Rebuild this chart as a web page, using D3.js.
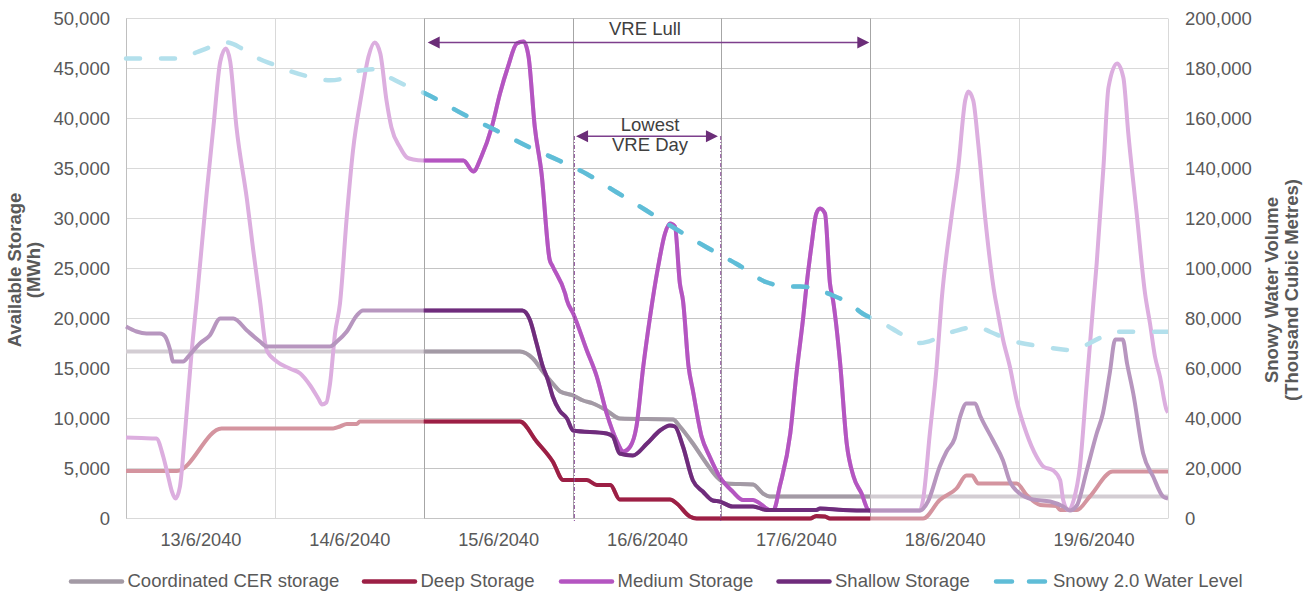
<!DOCTYPE html>
<html><head><meta charset="utf-8">
<script src="https://cdn.jsdelivr.net/npm/d3@7"></script>
<style>
body{margin:0;background:#fff;}
svg{display:block;font-family:"Liberation Sans",Arial,sans-serif;}
</style></head><body>
<svg id="chart" width="1315" height="595"></svg>
<script>
// ---------- data (hour since 13/6/2040 00:00, value) ----------
const dayLabels = ["13/6/2040","14/6/2040","15/6/2040","16/6/2040","17/6/2040","18/6/2040","19/6/2040"];
const leftTicks = [0,5000,10000,15000,20000,25000,30000,35000,40000,45000,50000];
const rightTicks = [0,20000,40000,60000,80000,100000,120000,140000,160000,180000,200000];
const seriesNames = ["Coordinated CER storage","Deep Storage","Medium Storage","Shallow Storage","Snowy 2.0 Water Level"];
const lullRange = [48,120];
const lowestDayRange = [72,96];

const cerData = [[0,16700],[63.5,16700],[65.6,16000],[67.2,14700],[68.8,13500],[70.0,12700],[72.1,12300],[73.7,11800],[75.3,11500],[77.5,10800],[79.6,10000],[88.2,9900],[89.3,9200],[91.4,7500],[93.6,5500],[95.2,4200],[96.8,3500],[101.1,3400],[102.7,2500],[103.8,2200],[168,2200]];

const deepData = [[0,4750],[8.2,4750],[15.4,9000],[33.4,9000],[34.5,9200],[35.6,9450],[37.2,9450],[37.7,9700],[63.5,9700],[66.2,7700],[68.8,5700],[70.5,3850],[74.3,3850],[75.9,3350],[78.1,3350],[79.6,1900],[87.7,1900],[88.8,1500],[90.9,200],[92.0,0],[110.3,0],[111.3,250],[112.7,200],[113.5,0],[128.5,0],[131.2,1850],[133.9,3000],[135.5,4300],[136.4,4300],[137.4,3500],[143.6,3500],[145.2,2350],[147.4,1350],[150.0,1250],[150.6,850],[153.3,850],[155.4,2200],[159.1,4700],[168,4700]];

const mediumData = [[0,8100],[2.5,8050],[4.9,8000],[6.0,6200],[6.8,4200],[7.4,2700],[8.0,2000],[8.7,3200],[9.5,8500],[10.6,16800],[11.4,21800],[13.0,32500],[14.1,39200],[15.2,45700],[16.1,47000],[16.8,45700],[17.8,39200],[19.5,31900],[20.5,26900],[21.6,21800],[22.7,16800],[24.3,15700],[26.4,15000],[28.1,14500],[29.7,13300],[31.0,12000],[31.6,11400],[32.3,11600],[32.9,13500],[33.7,18500],[34.5,21500],[35.6,30200],[36.6,36800],[38.0,42500],[39.1,46200],[40.1,47600],[41.0,46500],[42.0,41800],[42.8,39100],[44.2,37100],[45.3,36100],[46.3,35900],[47.9,35800],[54.4,35800],[56.0,34700],[57.3,36200],[59.0,39200],[60.3,42500],[61.6,45200],[63.0,47500],[64.1,47700],[64.9,46200],[65.9,39200],[67.0,34500],[68.3,25900],[68.8,25200],[70.8,22500],[71.1,21800],[72.1,20500],[74.3,16800],[75.9,14200],[77.5,10500],[79.1,7800],[80.2,6700],[81.3,7200],[82.3,9200],[83.4,15200],[84.5,20200],[85.8,25200],[86.9,28500],[87.7,29500],[88.5,29200],[89.3,23500],[89.8,21800],[90.7,15200],[91.4,12800],[92.8,8200],[94.1,6200],[95.7,4200],[97.8,2700],[99.5,1850],[101.1,1850],[102.2,1500],[103.8,850],[104.4,850],[105.4,3200],[107.1,8500],[108.1,14500],[109.2,20200],[109.7,23200],[110.5,27200],[111.3,30500],[111.9,31000],[112.7,30500],[113.5,23500],[114.0,21800],[115.1,15800],[116.2,7500],[117.3,4200],[118.6,2500],[119.7,850],[120,800],[128.0,800],[128.5,1850],[129.6,8500],[130.7,15200],[131.5,21800],[133.1,30200],[134.2,35200],[135.3,41800],[135.8,42700],[136.6,41800],[137.4,37500],[138.5,30200],[140.1,22200],[140.4,21200],[141.4,17900],[142.5,15200],[143.6,11800],[145.2,8500],[146.8,6200],[147.9,5200],[149.5,4800],[150.6,3850],[151.1,1850],[151.9,850],[152.8,1850],[153.8,5200],[154.9,13500],[156.0,21800],[156.5,25500],[157.6,35200],[158.4,43100],[159.8,45500],[160.8,44100],[161.6,38500],[163.0,30200],[164.3,22500],[165.1,19500],[165.9,16200],[166.7,14200],[167.8,10800],[168,10600]];

const shallowData = [[0,19200],[1.7,18700],[3.3,18500],[5.5,18500],[6.3,18200],[7.1,16900],[7.6,15700],[9.2,15700],[10.3,16400],[11.9,17500],[13.5,18300],[15.2,20000],[17.3,20000],[19.5,18800],[21.6,17700],[22.7,17200],[32.9,17200],[34.0,17700],[35.6,18700],[37.2,20300],[38.2,20800],[63.9,20800],[65.1,19900],[66.2,17500],[67.2,15200],[68.0,13900],[68.8,12200],[69.9,10800],[71.1,10000],[72.1,8800],[77.5,8500],[78.5,8200],[79.6,6500],[81.7,6300],[84.0,7500],[86.1,8800],[87.7,9300],[88.5,9200],[89.8,7200],[91.4,3800],[93.0,2700],[94.6,1800],[95.7,1700],[97.8,1200],[101.1,1200],[103.3,850],[111.3,850],[111.9,1000],[115.6,850],[120,800],[128.0,800],[129.3,1700],[131.2,5200],[132.3,6700],[133.6,8000],[134.5,10200],[135.5,11500],[136.9,11500],[137.7,10300],[139.8,7800],[141.4,5800],[142.5,3700],[144.1,2500],[146.2,1900],[149.0,1700],[151.1,1200],[152.2,800],[153.3,1300],[154.9,4800],[156.5,8500],[157.5,10500],[158.6,14500],[159.5,17900],[160.7,17900],[161.4,15500],[162.4,12500],[164.0,6500],[165.6,4200],[167.2,2200],[168,2000]];

const snowyData = [[0,184000],[8.7,184000],[11.4,186500],[14.1,189000],[16.3,190400],[18.9,187700],[21.6,183700],[23.7,181700],[26.4,179000],[29.1,177000],[32.9,175300],[34.5,175700],[36.6,178400],[39.8,179700],[42.5,176400],[45.3,173000],[48.5,169700],[54.4,161700],[59.8,155100],[65.1,148400],[69.9,143100],[74.3,137800],[79.1,130500],[83.9,123200],[88.2,116500],[93.6,108500],[98.4,101900],[103.3,94500],[106.5,92800],[108.7,92800],[114.0,89200],[116.7,85900],[118.8,81900],[121.6,78700],[125.3,73400],[128.0,70200],[133.3,74700],[137.2,76700],[139.3,74700],[142.5,71400],[147.9,68700],[152.2,67400],[157.5,72700],[159.8,74700],[168,74700]];

const fullColors  = ["#a39aa5","#9c1f45","#b455c1","#6f2c7c","#5fbdd7"];
const fadedColors = ["#d3cdd3","#d4949f","#dcaedf","#b796bf","#b3e0ec"];

// ---------- setup ----------
const svg = d3.select("#chart");
const textColor = "#595959";
const x = d3.scaleLinear().domain([0,168]).range([126,1168]);
const yL = d3.scaleLinear().domain([0,50000]).range([518.5,18.5]);
const yR = d3.scaleLinear().domain([0,200000]).range([518.5,18.5]);
const px = v => Math.round(v) + 0.5;

// gridlines
const grid = svg.append("g");
grid.selectAll("line.h").data(leftTicks).join("line")
  .attr("x1", x(0)).attr("x2", x(168))
  .attr("y1", d => yL(d)).attr("y2", d => yL(d))
  .attr("stroke", "#d9d9d9").attr("stroke-width", 1);
const dayBounds = d3.range(0, 169, 24);
grid.selectAll("line.v").data(dayBounds).join("line")
  .attr("x1", d => px(x(d))).attr("x2", d => px(x(d)))
  .attr("y1", yL(50000)).attr("y2", yL(0) + (0))
  .attr("stroke", d => d === 0 ? "#bfbfbf" : "#d9d9d9").attr("stroke-width", 1);
// lull box gridlines (darker)
grid.selectAll("line.lh").data(leftTicks).join("line")
  .attr("x1", px(x(lullRange[0]))).attr("x2", px(x(lullRange[1])))
  .attr("y1", d => yL(d)).attr("y2", d => yL(d))
  .attr("stroke", "#c4c4c4").attr("stroke-width", 1);
grid.selectAll("line.lv").data(d3.range(lullRange[0], lullRange[1] + 1, 24)).join("line")
  .attr("x1", d => px(x(d))).attr("x2", d => px(x(d)))
  .attr("y1", yL(50000)).attr("y2", yL(0))
  .attr("stroke", "#a6a6a6").attr("stroke-width", 1);

// axes
function styleAxis(g){
  g.select(".domain").remove();
  g.attr("font-family", null).attr("font-size", null);
  g.selectAll("text").attr("fill", textColor).style("font-size", "18.5px")
    .style("font-family", '"Liberation Sans", Arial, sans-serif');
}
svg.append("g").attr("transform", `translate(${x(0)},0)`)
  .call(d3.axisLeft(yL).tickValues(leftTicks).tickFormat(d3.format(",")).tickSize(0).tickPadding(16))
  .call(styleAxis);
svg.append("g").attr("transform", `translate(${x(168)},0)`)
  .call(d3.axisRight(yR).tickValues(rightTicks).tickFormat(d3.format(",")).tickSize(0).tickPadding(17))
  .call(styleAxis);
const dayMids = dayLabels.map((d, i) => i * 24 + 12);
svg.append("g").attr("transform", `translate(0,${yL(0)})`)
  .call(d3.axisBottom(x).tickValues(dayMids).tickFormat((d, i) => dayLabels[i]).tickSize(0).tickPadding(15))
  .call(styleAxis)
  .selectAll("text").style("font-size", "18.2px");

// axis titles
function vTitle(cx, cy, text){
  svg.append("text").attr("transform", `translate(${cx},${cy}) rotate(-90)`)
    .attr("text-anchor", "middle").attr("fill", textColor)
    .style("font-weight", "bold").style("font-size", "18.5px").text(text);
}
vTitle(21, 270, "Available Storage");
vTitle(39.5, 270, "(MWh)");
vTitle(1278, 290, "Snowy Water Volume");
vTitle(1297.5, 290, "(Thousand Cubic Metres)");

// ---------- series ----------
const allData = [cerData, deepData, mediumData, shallowData, snowyData];
const lineL = d3.line().x(d => x(d[0])).y(d => yL(d[1])).curve(d3.curveMonotoneX);
const lineR = d3.line().x(d => x(d[0])).y(d => yR(d[1])).curve(d3.curveMonotoneX);

svg.append("clipPath").attr("id", "lullClip").append("rect")
  .attr("x", x(lullRange[0])).attr("y", 0)
  .attr("width", x(lullRange[1]) - x(lullRange[0])).attr("height", 595);
svg.append("clipPath").attr("id", "plotClip").append("rect")
  .attr("x", x(0) - 3).attr("y", 0).attr("width", x(168) - x(0) + 3).attr("height", 595);

function drawSeries(group, colors){
  allData.forEach((data, i) => {
    const isSnowy = i === 4;
    group.append("path").datum(data)
      .attr("d", isSnowy ? lineR : lineL)
      .attr("fill", "none").attr("stroke", colors[i])
      .attr("stroke-width", isSnowy ? 4.5 : 4)
      .attr("stroke-linejoin", "round")
      .attr("stroke-linecap", isSnowy ? "round" : "butt")
      .attr("stroke-dasharray", isSnowy ? "14,21" : null);
  });
}
drawSeries(svg.append("g").attr("clip-path", "url(#plotClip)"), fadedColors);
drawSeries(svg.append("g").attr("clip-path", "url(#lullClip)"), fullColors);

// ---------- annotations ----------
const annColor = "#6b2d78";
const ann = svg.append("g");
function arrow(x1, x2, y){
  ann.append("line").attr("x1", x1 + 8).attr("x2", x2 - 8).attr("y1", y).attr("y2", y)
    .attr("stroke", "#7d3f8c").attr("stroke-width", 1.5);
  ann.append("path").attr("d", `M${x1},${y}L${x1 + 12},${y - 6}L${x1 + 12},${y + 6}Z`).attr("fill", annColor);
  ann.append("path").attr("d", `M${x2},${y}L${x2 - 12},${y - 6}L${x2 - 12},${y + 6}Z`).attr("fill", annColor);
}
arrow(x(lullRange[0]) + 4, x(lullRange[1]) - 1, 42.5);
ann.append("text").attr("x", (x(lullRange[0]) + x(lullRange[1])) / 2 - 2).attr("y", 34.5)
  .attr("text-anchor", "middle").attr("fill", "#404040").style("font-size", "18.5px").text("VRE Lull");

// lowest VRE day
[lowestDayRange[0], lowestDayRange[1]].forEach((h, i) => {
  const xx = x(h) + (i === 0 ? 1.8 : -0.7);
  ann.append("line").attr("x1", xx).attr("x2", xx).attr("y1", 136).attr("y2", 521)
    .attr("stroke", "#8a4a98").attr("stroke-width", 1).attr("stroke-dasharray", "4,2,1,2");
});
arrow(x(lowestDayRange[0]) + 3.5, x(lowestDayRange[1]) - 3.5, 136.3);
ann.append("text").attr("x", 650).attr("y", 130.5).attr("text-anchor", "middle")
  .attr("fill", "#404040").style("font-size", "18.5px").text("Lowest");
ann.append("text").attr("x", 650).attr("y", 150.5).attr("text-anchor", "middle")
  .attr("fill", "#404040").style("font-size", "18.5px").text("VRE Day");

// ---------- legend ----------
const legendSwatchX = [69, 362, 559, 776.5, 994];
const legendY = 581.5;
const leg = svg.append("g");
seriesNames.forEach((name, i) => {
  const isSnowy = i === 4;
  const x0 = legendSwatchX[i];
  leg.append("line")
    .attr("x1", isSnowy ? x0 + 2 : x0 + 2).attr("x2", isSnowy ? x0 + 51 : x0 + 53)
    .attr("y1", legendY).attr("y2", legendY)
    .attr("stroke", fullColors[i]).attr("stroke-width", 4.5).attr("stroke-linecap", "round")
    .attr("stroke-dasharray", isSnowy ? "16,17" : null);
  leg.append("text").attr("x", isSnowy ? x0 + 59 : x0 + 58.5).attr("y", 586.5)
    .attr("fill", textColor).style("font-size", "18.5px").text(name);
});
</script>
</body></html>
